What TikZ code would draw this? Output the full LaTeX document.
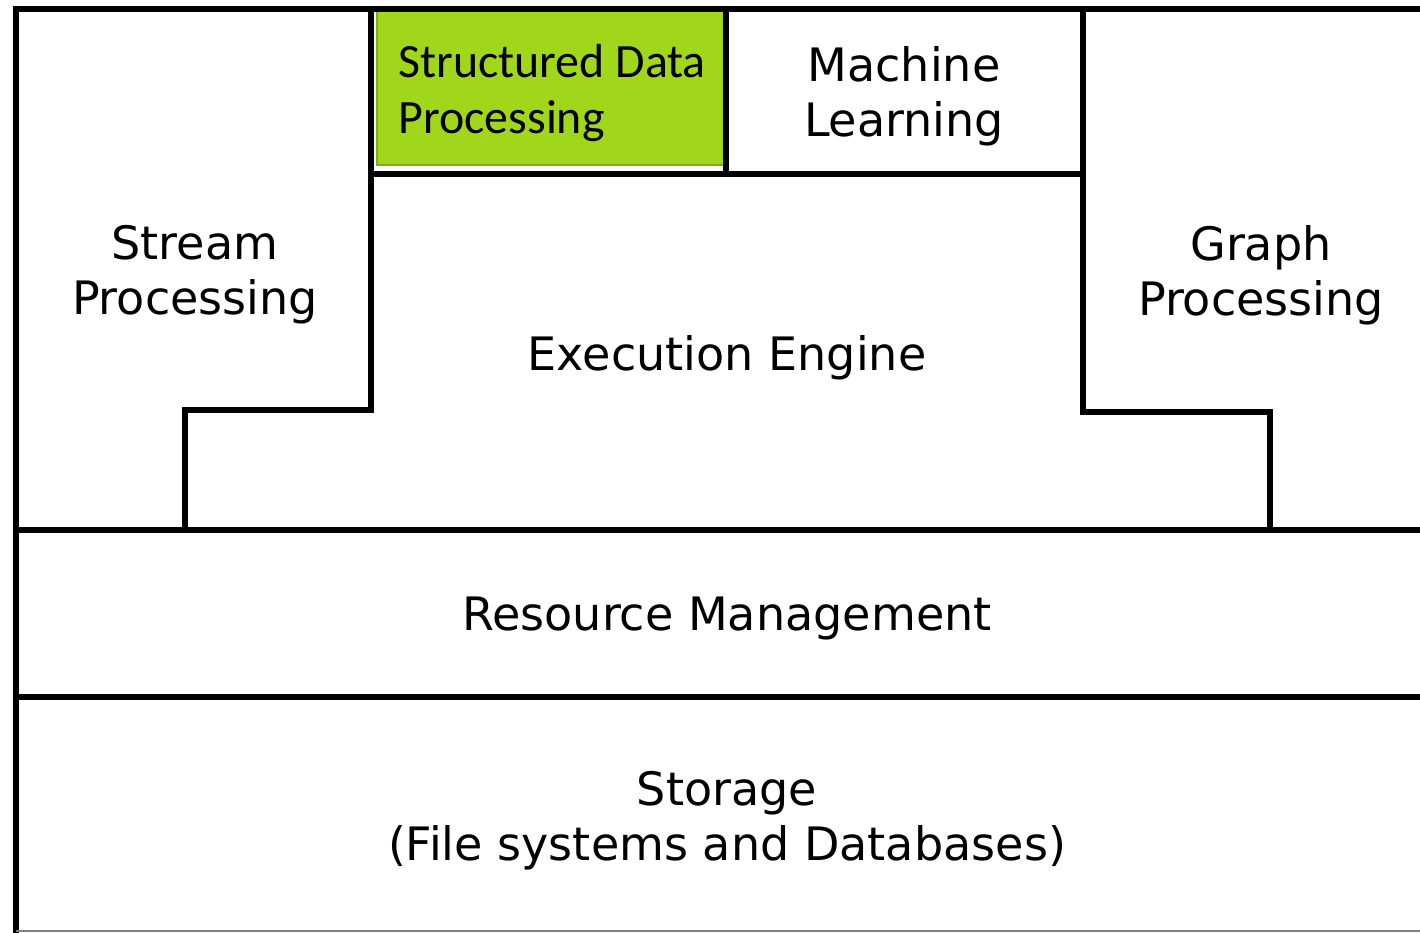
\documentclass[tikz,border=0pt]{standalone}
\usepackage{fontspec}
\setmainfont{DejaVu Sans}
\newfontfamily\calibrifont{Carlito}
\definecolor{sqlgreen}{RGB}{160,215,26}
\tikzset{
  wall/.style={line width=1.6pt, line cap=rect, line join=miter},
  label/.style={font=\fontsize{13.1}{15.6}\selectfont, align=center, inner sep=0pt},
  greenlabel/.style={font=\calibrifont\fontsize{13.6}{15.8}\selectfont, align=left, inner sep=0pt, anchor=west}
}
\begin{document}
\begin{tikzpicture}[x=0.01cm, y=-0.01cm]
  \useasboundingbox (0,0) rectangle (1420,933);

  % highlighted structured-data block
  \fill[sqlgreen] (377,11) rectangle (724,165);
  \draw[sqlgreen!80!black, line width=0.4pt] (377,11) rectangle (724,165);

  % outer frame (open on the right)
  \draw[wall] (1420,9) -- (16,9) -- (16,930);
  \draw[line width=0.5pt, black!50] (16,931) -- (1420,931);

  % layer separators
  \draw[wall] (16,530) -- (1420,530);
  \draw[wall] (16,697) -- (1420,697);

  % stream processing outline
  \draw[wall] (371,9) -- (371,410) -- (185,410) -- (185,530);
  % graph processing outline
  \draw[wall] (1083,9) -- (1083,412) -- (1270,412) -- (1270,530);
  % top library blocks
  \draw[wall] (371,174) -- (1083,174);
  \draw[wall] (726,9) -- (726,174);

  % labels
  \node[greenlabel] (sdp) at (398,93) {Structured Data\\Processing};
  \node[label] (ml) at (904,96) {Machine\\Learning};
  \node[label] (sp) at (195,275) {Stream\\Processing};
  \node[label] (gp) at (1261,275) {Graph\\Processing};
  \node[label] (ee) at (727,358) {Execution Engine};
  \node[label] (rm) at (727,618) {Resource Management};
  \node[label] (st) at (727,821) {Storage\\(File systems and Databases)};
\end{tikzpicture}
\end{document}
